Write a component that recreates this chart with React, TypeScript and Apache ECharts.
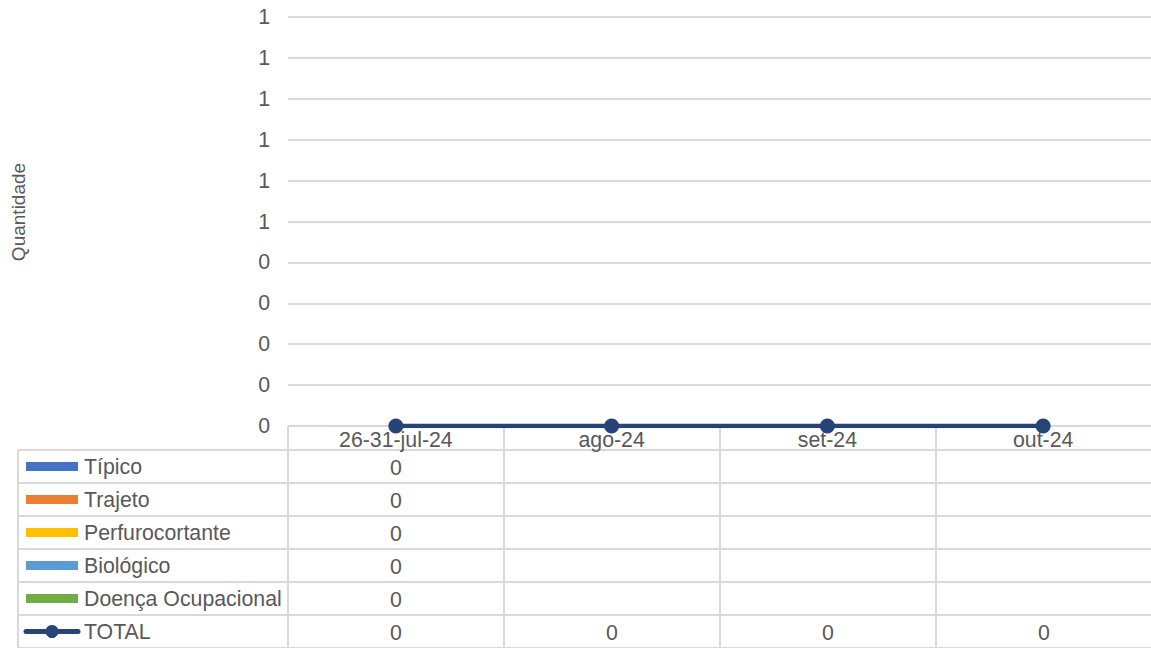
import React, { useEffect, useRef } from "react";
import * as echarts from "echarts";

const categories = ["26-31-jul-24", "ago-24", "set-24", "out-24"];
const seriesNames = ["Típico", "Trajeto", "Perfurocortante", "Biológico", "Doença Ocupacional"];
const seriesColors = ["#4472C4", "#ED7D31", "#FFC000", "#5B9BD5", "#70AD47"];
const tipico = [0, null, null, null];
const trajeto = [0, null, null, null];
const perfurocortante = [0, null, null, null];
const biologico = [0, null, null, null];
const doenca = [0, null, null, null];
const total = [0, 0, 0, 0];
const totalName = "TOTAL";
const totalColor = "#264478";
const yAxisTitle = "Quantidade";
const yTicks = [0, 0.1, 0.2, 0.3, 0.4, 0.5, 0.6, 0.7, 0.8, 0.9, 1];

export default function App() {
  const ref = useRef<HTMLDivElement>(null);
  useEffect(() => {
    if (!ref.current) return;
    const chart = echarts.init(ref.current, null, { renderer: "svg" });
    const W = 1151;
    const gridLeft = 288;
    const gridRight = 1152;
    const gridTop = 17;
    const gridBottom = 426;
    const tableLeft = 18;
    const headerBottom = 450;
    const rowH = 33;
    const lineColor = "#D9D9D9";
    const textColor = "#595959";
    const font = "'Liberation Sans', Arial, sans-serif";
    const fs = 21.3;
    const catW = (gridRight - gridLeft) / categories.length;
    const barData = [tipico, trajeto, perfurocortante, biologico, doenca];

    const graphics: any[] = [];
    const nRows = seriesNames.length + 1;
    const tableBottom = headerBottom + nRows * rowH;
    for (let r = 0; r <= nRows; r++) {
      const y = headerBottom + r * rowH;
      graphics.push({ type: "line", shape: { x1: tableLeft, y1: y, x2: gridRight, y2: y }, style: { stroke: lineColor, lineWidth: 2 }, silent: true });
    }
    graphics.push({ type: "line", shape: { x1: gridLeft, y1: gridBottom, x2: gridRight, y2: gridBottom }, style: { stroke: lineColor, lineWidth: 2 }, silent: true, z: 0 });
    graphics.push({ type: "line", shape: { x1: tableLeft, y1: headerBottom, x2: tableLeft, y2: tableBottom }, style: { stroke: lineColor, lineWidth: 2 }, silent: true });
    for (let c = 0; c <= categories.length; c++) {
      const x = gridLeft + c * catW;
      graphics.push({ type: "line", shape: { x1: x, y1: gridBottom, x2: x, y2: tableBottom }, style: { stroke: lineColor, lineWidth: 2 }, silent: true });
    }
    const allRows = [...barData, total];
    const allNames = [...seriesNames, totalName];
    allRows.forEach((row, r) => {
      const cy = headerBottom + r * rowH + rowH / 2;
      if (r < seriesNames.length) {
        graphics.push({ type: "rect", shape: { x: 26, y: cy - 4.5, width: 52, height: 9 }, style: { fill: seriesColors[r] }, silent: true });
      } else {
        graphics.push({ type: "line", shape: { x1: 26, y1: cy, x2: 78, y2: cy }, style: { stroke: totalColor, lineWidth: 5, lineCap: "round" }, silent: true });
        graphics.push({ type: "circle", shape: { cx: 52, cy, r: 6.5 }, style: { fill: totalColor }, silent: true });
      }
      graphics.push({ type: "text", x: 84, y: cy, style: { text: allNames[r], fill: textColor, font: `${fs}px ${font}`, textAlign: "left", textVerticalAlign: "middle" }, silent: true });
      row.forEach((v, c) => {
        if (v === null || v === undefined) return;
        graphics.push({ type: "text", x: gridLeft + c * catW + catW / 2, y: cy + 1, style: { text: String(v), fill: textColor, font: `${fs}px ${font}`, textAlign: "center", textVerticalAlign: "middle" }, silent: true });
      });
    });
    graphics.push({ type: "text", x: 18, y: 212, rotation: Math.PI / 2, style: { text: yAxisTitle, fill: textColor, font: `19px ${font}`, textAlign: "center", textVerticalAlign: "middle" }, silent: true });

    chart.setOption({
      animation: false,
      textStyle: { fontFamily: font },
      grid: { left: gridLeft, right: W - gridRight, top: gridTop, bottom: 648 - gridBottom, containLabel: false },
      xAxis: {
        type: "category",
        data: categories,
        boundaryGap: true,
        axisLine: { show: false },
        axisTick: { show: false },
        axisLabel: { color: textColor, fontSize: fs, margin: 3, fontFamily: font },
      },
      yAxis: {
        type: "value",
        min: yTicks[0],
        max: yTicks[yTicks.length - 1],
        interval: 0.1,
        axisLine: { show: false },
        axisTick: { show: false },
        axisLabel: { color: textColor, fontSize: fs, margin: 18, fontFamily: font, formatter: (v: number) => String(Math.round(v)) },
        splitLine: { lineStyle: { color: lineColor, width: 2 } },
      },
      series: [
        ...seriesNames.map((n, i) => ({
          name: n,
          type: "bar",
          stack: "a",
          data: barData[i],
          itemStyle: { color: seriesColors[i] },
        })),
        {
          name: totalName,
          type: "line",
          data: total,
          symbol: "circle",
          symbolSize: 15,
          lineStyle: { color: totalColor, width: 4.5 },
          itemStyle: { color: totalColor },
          z: 5,
        },
      ],
      graphic: graphics,
    });
    return () => chart.dispose();
  }, []);
  return <div ref={ref} style={{ position: "fixed", left: 0, top: 0, width: 1151, height: 648, background: "#fff" }} />;
}
